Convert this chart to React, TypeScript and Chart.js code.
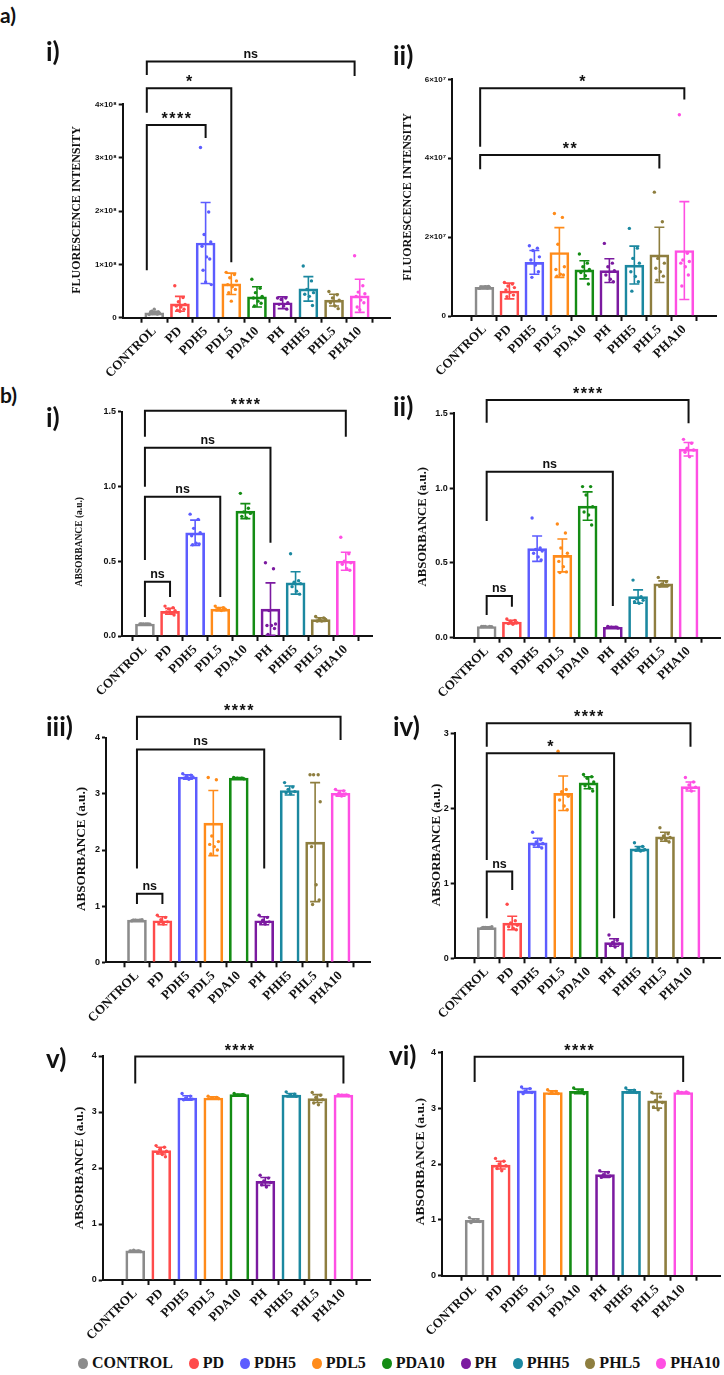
import React, { useEffect, useRef } from 'react';
import { Chart, registerables } from 'chart.js';

Chart.register(...registerables);

// ---------- shared ----------
const categories = ['CONTROL', 'PD', 'PDH5', 'PDL5', 'PDA10', 'PH', 'PHH5', 'PHL5', 'PHA10'];
const groupColors = ['#8b8b8b', '#ff4b4b', '#5c5cff', '#ff8b1a', '#148c14', '#7b1aa0', '#1b88a0', '#8e7e3f', '#ff4fe3'];

// ---------- a-i : fluorescence (×10^8) ----------
const a1Means = [0.09, 0.26, 1.40, 0.635, 0.39, 0.28, 0.54, 0.33, 0.41];
const a1Sd = [0.03, 0.14, 0.76, 0.20, 0.19, 0.11, 0.23, 0.11, 0.31];
const a1Points = [
  [0.06, 0.07, 0.08, 0.09, 0.10, 0.10, 0.11, 0.12, 0.16],
  [0.60, 0.38, 0.30, 0.25, 0.22, 0.20, 0.16, 0.14, 0.12],
  [3.19, 1.98, 1.56, 1.42, 1.34, 1.14, 1.10, 0.89, 0.67, 0.62],
  [0.85, 0.81, 0.75, 0.69, 0.62, 0.58, 0.53, 0.47, 0.31],
  [0.72, 0.55, 0.47, 0.40, 0.37, 0.31, 0.27, 0.22],
  [0.37, 0.37, 0.34, 0.28, 0.25, 0.22, 0.16],
  [0.97, 0.69, 0.53, 0.47, 0.44, 0.40, 0.23],
  [0.49, 0.43, 0.37, 0.33, 0.28, 0.22, 0.17],
  [1.16, 0.60, 0.48, 0.45, 0.40, 0.33, 0.28, 0.20, 0.15],
];
const a1Ticks = [0, 1, 2, 3, 4];
const a1Brackets = [
  [-0.29, 7.8, 4.80, 4.55, 4.53, 'ns'],
  [-0.29, 3, 4.30, 3.84, 1.04, '*'],
  [-0.29, 2, 3.61, 0.89, 3.37, '****'],
];

// ---------- a-ii : fluorescence (×10^7) ----------
const a2Means = [0.727, 0.634, 1.36, 1.61, 1.17, 1.15, 1.29, 1.55, 1.66];
const a2Sd = [0.03, 0.20, 0.30, 0.63, 0.23, 0.30, 0.48, 0.70, 1.24];
const a2Points = [
  [0.70, 0.71, 0.72, 0.73, 0.73, 0.74, 0.75],
  [0.85, 0.81, 0.76, 0.72, 0.66, 0.60, 0.53, 0.49],
  [1.78, 1.72, 1.66, 1.50, 1.42, 1.29, 1.12, 0.98],
  [2.60, 2.50, 1.82, 1.25, 1.18, 1.06, 1.04, 1.01],
  [1.57, 1.34, 1.25, 1.18, 1.10, 1.02, 0.81],
  [1.84, 1.34, 1.25, 1.15, 1.04, 0.93, 0.87],
  [2.22, 1.72, 1.46, 1.34, 1.12, 1.00, 0.87, 0.63],
  [3.14, 2.39, 1.46, 1.34, 1.21, 1.12, 1.01, 0.91],
  [5.10, 1.59, 1.42, 1.38, 1.34, 1.25, 1.04, 0.76],
];
const a2Ticks = [0, 2, 4, 6];
const a2Brackets = [
  [-0.17, 8, 5.77, 4.29, 5.49, '*'],
  [-0.17, 7, 4.08, 3.72, 3.74, '**'],
];

// ---------- b-i ----------
const b1Means = [0.08, 0.165, 0.69, 0.18, 0.835, 0.18, 0.355, 0.11, 0.50];
const b1Sd = [0.003, 0.02, 0.085, 0.01, 0.05, 0.175, 0.075, 0.012, 0.06];
const b1Points = [
  [0.08, 0.08, 0.081, 0.079, 0.08, 0.08],
  [0.20, 0.19, 0.18, 0.17, 0.16, 0.15, 0.14],
  [0.815, 0.78, 0.72, 0.69, 0.67, 0.62, 0.615, 0.61],
  [0.20, 0.19, 0.185, 0.18, 0.175, 0.17],
  [0.954, 0.854, 0.83, 0.82, 0.80, 0.79],
  [0.49, 0.45, 0.17, 0.08, 0.07, 0.07, 0.05, 0.01],
  [0.55, 0.37, 0.36, 0.35, 0.33, 0.30, 0.28],
  [0.13, 0.12, 0.11, 0.11, 0.10, 0.10],
  [0.66, 0.55, 0.50, 0.49, 0.48, 0.45, 0.44],
];
const b1Ticks = [0, 0.5, 1.0, 1.5];
const b1Brackets = [
  [0, 8, 1.507, 1.333, 1.333, '****'],
  [0, 5, 1.259, 0.998, 0.623, 'ns'],
  [0, 3, 0.931, 0.509, 0.261, 'ns'],
  [0, 1, 0.362, 0.127, 0.261, 'ns'],
];

// ---------- b-ii ----------
const b2Means = [0.075, 0.105, 0.595, 0.55, 0.88, 0.07, 0.275, 0.36, 1.26];
const b2Sd = [0.002, 0.012, 0.085, 0.11, 0.095, 0.005, 0.045, 0.02, 0.045];
const b2Points = [
  [0.075, 0.075, 0.076, 0.074, 0.075],
  [0.125, 0.115, 0.11, 0.10, 0.095, 0.09],
  [0.80, 0.60, 0.59, 0.58, 0.565, 0.54, 0.52],
  [0.76, 0.70, 0.60, 0.565, 0.51, 0.475, 0.44, 0.435],
  [1.01, 1.01, 0.954, 0.876, 0.84, 0.82, 0.753],
  [0.075, 0.07, 0.07, 0.065],
  [0.385, 0.274, 0.26, 0.25, 0.24, 0.23],
  [0.403, 0.374, 0.36, 0.35, 0.345],
  [1.326, 1.30, 1.266, 1.255, 1.24, 1.21],
];
const b2Ticks = [0, 0.5, 1.0, 1.5];
const b2Brackets = [
  [0, 8, 1.589, 1.437, 1.433, '****'],
  [0, 5, 1.110, 0.78, 0.212, 'ns'],
  [0, 1, 0.279, 0.152, 0.207, 'ns'],
];

// ---------- b-iii ----------
const b3Means = [0.75, 0.74, 3.30, 2.48, 3.28, 0.74, 3.06, 2.14, 3.01];
const b3Sd = [0.01, 0.07, 0.04, 0.58, 0.01, 0.07, 0.08, 1.06, 0.05];
const b3Points = [
  [0.74, 0.75, 0.75, 0.76, 0.75],
  [0.84, 0.80, 0.76, 0.72, 0.70, 0.68],
  [3.36, 3.33, 3.31, 3.30, 3.28, 3.26],
  [3.29, 3.25, 2.25, 2.15, 2.10, 2.06, 2.00, 1.93],
  [3.29, 3.28, 3.28, 3.27],
  [0.84, 0.80, 0.75, 0.72, 0.70, 0.68],
  [3.20, 3.12, 3.08, 3.04, 3.02, 3.00],
  [3.34, 3.34, 3.34, 2.86, 2.06, 1.38, 1.11, 1.03],
  [3.08, 3.05, 3.02, 3.00, 2.98, 2.96],
];
const b3Ticks = [0, 1, 2, 3, 4];
const b3Brackets = [
  [0, 8, 4.374, 3.96, 3.96, '****'],
  [0, 5, 3.79, 1.67, 1.67, 'ns'],
  [0, 1, 1.22, 1.04, 1.04, 'ns'],
];

// ---------- b-iv ----------
const b4Means = [0.41, 0.47, 1.54, 2.20, 2.34, 0.21, 1.46, 1.62, 2.29];
const b4Sd = [0.01, 0.09, 0.06, 0.23, 0.08, 0.05, 0.03, 0.06, 0.06];
const b4Points = [
  [0.40, 0.41, 0.41, 0.42, 0.41],
  [0.72, 0.50, 0.47, 0.44, 0.42, 0.40, 0.38],
  [1.68, 1.58, 1.55, 1.53, 1.51, 1.49, 1.47],
  [2.76, 2.25, 2.22, 2.16, 2.11, 2.03, 1.98],
  [2.45, 2.42, 2.40, 2.35, 2.30, 2.27, 2.23],
  [0.31, 0.24, 0.21, 0.19, 0.17, 0.15],
  [1.54, 1.49, 1.47, 1.45, 1.44, 1.43],
  [1.74, 1.66, 1.63, 1.61, 1.59, 1.57, 1.55],
  [2.41, 2.35, 2.31, 2.28, 2.26, 2.23],
];
const b4Ticks = [0, 1, 2, 3];
const b4Brackets = [
  [0, 8, 3.133, 2.82, 2.82, '****'],
  [0, 5, 2.733, 1.311, 0.533, '*'],
  [0, 1, 1.156, 0.533, 0.911, 'ns'],
];

// ---------- b-v ----------
const b5Means = [0.52, 2.31, 3.25, 3.25, 3.31, 1.76, 3.30, 3.24, 3.30];
const b5Sd = [0.01, 0.06, 0.04, 0.02, 0.01, 0.07, 0.03, 0.07, 0.01];
const b5Points = [
  [0.52, 0.52, 0.53, 0.51],
  [2.40, 2.37, 2.33, 2.30, 2.27, 2.24, 2.20],
  [3.33, 3.28, 3.25, 3.23, 3.22],
  [3.28, 3.26, 3.25, 3.24],
  [3.33, 3.31, 3.30, 3.30],
  [1.87, 1.82, 1.77, 1.74, 1.70, 1.66],
  [3.36, 3.32, 3.30, 3.28],
  [3.35, 3.30, 3.26, 3.22, 3.16, 3.13],
  [3.31, 3.30, 3.30, 3.29],
];
const b5Ticks = [0, 1, 2, 3, 4];
const b5Brackets = [[0, 8, 3.99, 3.51, 3.51, '****']];

// ---------- b-vi ----------
const b6Means = [0.99, 1.98, 3.31, 3.28, 3.30, 1.81, 3.30, 3.13, 3.28];
const b6Sd = [0.03, 0.07, 0.04, 0.03, 0.04, 0.05, 0.03, 0.13, 0.01];
const b6Points = [
  [1.04, 1.00, 0.99, 0.97, 0.95],
  [2.10, 2.05, 2.00, 1.97, 1.92, 1.88],
  [3.38, 3.35, 3.31, 3.28, 3.26],
  [3.33, 3.30, 3.28, 3.26],
  [3.36, 3.32, 3.29, 3.26],
  [1.88, 1.85, 1.81, 1.78, 1.76],
  [3.36, 3.32, 3.30, 3.28],
  [3.28, 3.20, 3.14, 3.10, 3.02, 2.97],
  [3.30, 3.29, 3.28, 3.27],
];
const b6Ticks = [0, 1, 2, 3, 4];
const b6Brackets = [[0, 8, 3.92, 3.47, 3.47, '****']];

// horizontal spread of the dots inside a bar (presentation only)
const jitter = [-0.2, 0.12, -0.06, 0.2, -0.14, 0.04, 0.16, -0.1, 0.0, 0.22];

const fmtA1 = (v: number) => (v === 0 ? '0' : `${v}×10⁸`);
const fmtA2 = (v: number) => (v === 0 ? '0' : `${v}×10⁷`);
const fmtFixed = (v: number) => v.toFixed(1);
const fmtInt = (v: number) => String(v);

// panel layout (page pixels)
const panels = [
  { means: a1Means, sd: a1Sd, points: a1Points, ticks: a1Ticks, brackets: a1Brackets, fmt: fmtA1, title: 'FLUORESCENCE INTENSITY',
    box: [55, 35, 395, 390], axisX: 122.7, yTopPx: 104.3, yZeroPx: 317.7, xRightPx: 390, xMin: -0.65, xMax: 8.6,
    titleX: 77.3, titleY: 210, titleSize: 12, tickSize: 8 },
  { means: a2Means, sd: a2Sd, points: a2Points, ticks: a2Ticks, brackets: a2Brackets, fmt: fmtA2, title: 'FLUORESCENCE INTENSITY',
    box: [395, 35, 722, 390], axisX: 452, yTopPx: 79.3, yZeroPx: 316, xRightPx: 716, xMin: -0.71, xMax: 8.68,
    titleX: 408, titleY: 197, titleSize: 12, tickSize: 8 },
  { means: b1Means, sd: b1Sd, points: b1Points, ticks: b1Ticks, brackets: b1Brackets, fmt: fmtFixed, title: 'ABSORBANCE (a.u.)',
    box: [55, 385, 380, 705], axisX: 122, yTopPx: 411.7, yZeroPx: 636, xRightPx: 372, xMin: -0.36, xMax: 8.49,
    titleX: 80, titleY: 541.7, titleSize: 9.5, tickSize: 9 },
  { means: b2Means, sd: b2Sd, points: b2Points, ticks: b2Ticks, brackets: b2Brackets, fmt: fmtFixed, title: 'ABSORBANCE (a.u.)',
    box: [400, 385, 724, 705], axisX: 453.7, yTopPx: 413.3, yZeroPx: 637.7, xRightPx: 722, xMin: -0.72, xMax: 8.66,
    titleX: 423, titleY: 526.7, titleSize: 12.7, tickSize: 9 },
  { means: b3Means, sd: b3Sd, points: b3Points, ticks: b3Ticks, brackets: b3Brackets, fmt: fmtInt, title: 'ABSORBANCE (a.u.)',
    box: [55, 698, 380, 1022], axisX: 106, yTopPx: 737.7, yZeroPx: 962.3, xRightPx: 370, xMin: -0.64, xMax: 8.58,
    titleX: 81.7, titleY: 849, titleSize: 13.2, tickSize: 9 },
  { means: b4Means, sd: b4Sd, points: b4Points, ticks: b4Ticks, brackets: b4Brackets, fmt: fmtInt, title: 'ABSORBANCE (a.u.)',
    box: [400, 698, 724, 1022], axisX: 454.7, yTopPx: 733.3, yZeroPx: 958.3, xRightPx: 722, xMin: -0.68, xMax: 8.58,
    titleX: 436.5, titleY: 845, titleSize: 13, tickSize: 9 },
  { means: b5Means, sd: b5Sd, points: b5Points, ticks: b5Ticks, brackets: b5Brackets, fmt: fmtInt, title: 'ABSORBANCE (a.u.)',
    box: [55, 1028, 380, 1345], axisX: 102.7, yTopPx: 1056, yZeroPx: 1280, xRightPx: 370, xMin: -0.68, xMax: 8.45,
    titleX: 79.3, titleY: 1168, titleSize: 13, tickSize: 9 },
  { means: b6Means, sd: b6Sd, points: b6Points, ticks: b6Ticks, brackets: b6Brackets, fmt: fmtInt, title: 'ABSORBANCE (a.u.)',
    box: [395, 1028, 724, 1345], axisX: 442, yTopPx: 1052.3, yZeroPx: 1275.7, xRightPx: 720, xMin: -0.66, xMax: 8.82,
    titleX: 420.3, titleY: 1161.7, titleSize: 13.5, tickSize: 9 },
];

type Panel = typeof panels[number];

function PanelChart({ p }: { p: Panel }) {
  const ref = useRef<HTMLCanvasElement | null>(null);
  const [L, T, R, B] = p.box;
  const W = R - L;
  const H = B - T;

  useEffect(() => {
    const canvas = ref.current;
    if (!canvas) return;

    const barData = p.means.map((v, i) => ({ x: i, y: v }));
    const dotData: { x: number; y: number; g: number }[] = [];
    p.points.forEach((arr, g) => arr.forEach((v, k) => dotData.push({ x: g + jitter[k % jitter.length], y: v, g })));

    const overlay = {
      id: 'overlay' + Math.random().toString(36).slice(2),
      afterDatasetsDraw(chart: any) {
        const { ctx } = chart;
        const xs = chart.scales.x;
        const ys = chart.scales.y;
        ctx.save();
        // error bars (mean ± SD)
        p.means.forEach((m, i) => {
          const px = xs.getPixelForValue(i);
          const top = ys.getPixelForValue(m + p.sd[i]);
          const bot = ys.getPixelForValue(Math.max(m - p.sd[i], 0));
          ctx.strokeStyle = groupColors[i];
          ctx.lineWidth = 1.6;
          ctx.beginPath();
          ctx.moveTo(px, top);
          ctx.lineTo(px, bot);
          ctx.moveTo(px - 5, top);
          ctx.lineTo(px + 5, top);
          ctx.moveTo(px - 5, bot);
          ctx.lineTo(px + 5, bot);
          ctx.stroke();
        });
        // significance brackets
        p.brackets.forEach((b: any[]) => {
          const [x1v, x2v, yv, lEnd, rEnd, label] = b;
          const x1 = xs.getPixelForValue(x1v);
          const x2 = xs.getPixelForValue(x2v);
          const y = ys.getPixelForValue(yv);
          ctx.strokeStyle = '#111';
          ctx.lineWidth = 2;
          ctx.lineJoin = 'miter';
          ctx.beginPath();
          ctx.moveTo(x1, ys.getPixelForValue(lEnd));
          ctx.lineTo(x1, y);
          ctx.lineTo(x2, y);
          ctx.lineTo(x2, ys.getPixelForValue(rEnd));
          ctx.stroke();
          const star = String(label).startsWith('*');
          ctx.fillStyle = '#111';
          ctx.textAlign = 'center';
          ctx.textBaseline = 'alphabetic';
          ctx.font = star ? 'bold 16px "Liberation Sans", Arial, sans-serif' : 'bold 12.5px "Liberation Sans", Arial, sans-serif';
          (ctx as any).letterSpacing = star ? '1.5px' : '0px';
          ctx.fillText(label, (x1 + x2) / 2 + (star ? 0.75 : 0), y - (star ? 1 : 4));
          (ctx as any).letterSpacing = '0px';
        });
        ctx.restore();
      },
      afterDraw(chart: any) {
        const { ctx } = chart;
        ctx.save();
        ctx.translate(p.titleX - L, p.titleY - T);
        ctx.rotate(-Math.PI / 2);
        ctx.fillStyle = '#111';
        ctx.textAlign = 'center';
        ctx.textBaseline = 'middle';
        ctx.font = `bold ${p.titleSize}px "Liberation Serif", "Times New Roman", serif`;
        ctx.fillText(p.title, 0, 0);
        ctx.restore();
      },
    };

    const chart = new Chart(canvas, {
      type: 'bar',
      data: {
        datasets: [
          {
            type: 'bar',
            data: barData as any,
            backgroundColor: 'rgba(255,255,255,0)',
            borderColor: groupColors,
            borderWidth: 2,
            borderSkipped: 'start',
            barThickness: 19,
            order: 2,
          } as any,
          {
            type: 'scatter',
            data: dotData as any,
            backgroundColor: (ctx: any) => groupColors[ctx.raw ? ctx.raw.g : 0],
            borderWidth: 0,
            pointRadius: 1.7,
            order: 1,
          } as any,
        ],
      },
      options: {
        responsive: false,
        animation: false,
        events: [],
        layout: {
          padding: { top: p.yTopPx - T, right: R - p.xRightPx, left: 0, bottom: 0 },
        },
        plugins: { legend: { display: false }, tooltip: { enabled: false } },
        scales: {
          x: {
            type: 'linear',
            min: p.xMin,
            max: p.xMax,
            afterBuildTicks: (s: any) => {
              s.ticks = categories.map((_, i) => ({ value: i }));
            },
            afterFit: (s: any) => {
              s.height = B - p.yZeroPx;
            },
            ticks: {
              autoSkip: false,
              minRotation: 45,
              maxRotation: 45,
              padding: 1,
              color: '#111',
              font: { family: '"Liberation Serif", "Times New Roman", serif', size: 13, weight: 'bold' },
              callback: (v: any) => categories[Math.round(v)] ?? '',
            },
            grid: { drawOnChartArea: false, drawTicks: true, tickLength: 5, tickWidth: 2, tickColor: '#111' },
            border: { display: true, color: '#111', width: 2 },
          } as any,
          y: {
            type: 'linear',
            min: 0,
            max: p.ticks[p.ticks.length - 1],
            afterBuildTicks: (s: any) => {
              s.ticks = p.ticks.map((v) => ({ value: v }));
            },
            afterFit: (s: any) => {
              s.width = p.axisX - L;
            },
            ticks: {
              padding: 2,
              color: '#111',
              font: { family: '"Liberation Sans", Arial, sans-serif', size: p.tickSize, weight: 'bold' },
              callback: (v: any) => p.fmt(Number(v)),
            },
            grid: { drawOnChartArea: false, drawTicks: true, tickLength: 4, tickWidth: 2, tickColor: '#111' },
            border: { display: true, color: '#111', width: 2 },
          } as any,
        },
      },
      plugins: [overlay as any],
    });
    return () => chart.destroy();
  }, []);

  return (
    <canvas
      ref={ref}
      width={W}
      height={H}
      style={{ position: 'absolute', left: L, top: T, width: W, height: H }}
    />
  );
}

const panelLetters = [
  { text: 'a)', x: 0, y: 4, size: 21 },
  { text: 'b)', x: 0, y: 384, size: 21 },
];
const panelNumerals = [
  { text: 'i)', x: 46, y: 38 },
  { text: 'ii)', x: 393, y: 42 },
  { text: 'i)', x: 46, y: 404 },
  { text: 'ii)', x: 393, y: 393 },
  { text: 'iii)', x: 46, y: 713 },
  { text: 'iv)', x: 393, y: 713 },
  { text: 'v)', x: 46, y: 1045 },
  { text: 'vi)', x: 389, y: 1042 },
];

function Legend() {
  return (
    <div
      style={{
        position: 'absolute',
        left: 78,
        top: 1352,
        width: 642,
        height: 22,
        display: 'flex',
        justifyContent: 'space-between',
        alignItems: 'center',
        fontFamily: '"Liberation Serif", "Times New Roman", serif',
        fontWeight: 'bold',
        fontSize: 16,
        color: '#111',
        lineHeight: '22px',
      }}
    >
      {categories.map((c, i) => (
        <div key={c} style={{ display: 'flex', alignItems: 'center', whiteSpace: 'nowrap' }}>
          <span
            style={{
              display: 'inline-block',
              width: 10,
              height: 11,
              borderRadius: '50%',
              background: groupColors[i],
              marginRight: 4,
            }}
          />
          <span>{c}</span>
        </div>
      ))}
    </div>
  );
}

export default function App() {
  return (
    <div style={{ position: 'absolute', left: 0, top: 0, width: 724, height: 1375, background: '#fff', overflow: 'hidden' }}>
      {panels.map((p, i) => (
        <PanelChart key={i} p={p} />
      ))}
      {panelLetters.map((l, i) => (
        <div
          key={'l' + i}
          style={{ position: 'absolute', left: l.x, top: l.y, fontFamily: 'Lato, "Open Sans", sans-serif', fontWeight: 'bold', fontSize: l.size, lineHeight: 1, color: '#111' }}
        >
          {l.text}
        </div>
      ))}
      {panelNumerals.map((l, i) => (
        <div
          key={'n' + i}
          style={{ position: 'absolute', left: l.x, top: l.y, fontFamily: 'Lato, "Open Sans", sans-serif', fontWeight: 'bold', fontSize: 26, lineHeight: 1, color: '#111' }}
        >
          {l.text}
        </div>
      ))}
      <Legend />
    </div>
  );
}
